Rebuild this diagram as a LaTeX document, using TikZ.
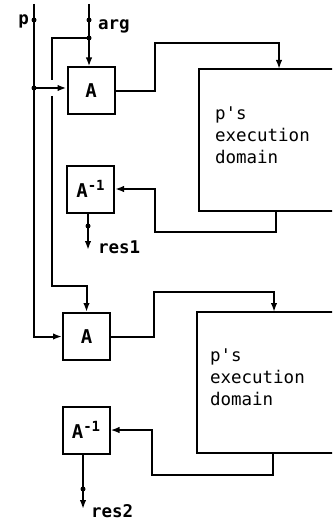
\documentclass[tikz,border=0pt]{standalone}
\usepackage{fontspec}
\newfontfamily\dmono{DejaVu Sans Mono}
\usetikzlibrary{arrows.meta}
\begin{document}
\begin{tikzpicture}[x=1pt,y=-1pt,
  line width=2pt,
  font=\dmono\fontsize{17.5}{22}\selectfont,
  opbox/.style={draw,minimum width=47pt,minimum height=47pt,inner sep=0pt,font=\dmono\bfseries\fontsize{19}{22}\selectfont},
  dombox/.style={draw,minimum width=150pt,minimum height=142pt,inner sep=0pt},
  arr/.style={-{Latex[length=9pt,width=6.5pt]}},
  dot/.style={circle,fill,inner sep=0pt,minimum size=5pt},
  lbl/.style={inner sep=0pt,anchor=base west,font=\dmono\bfseries\fontsize{17.5}{22}\selectfont}]
\clip (0,0) rectangle (332,524);
% boxes
\node[opbox] (A1) at (91,91) {A};
\node[opbox] (I1) at (90.5,189) {A\raisebox{7pt}{\fontsize{14}{14}\selectfont -1}};
\node[opbox] (A2) at (86.5,336.5) {A};
\node[opbox] (I2) at (86,430) {A\raisebox{7pt}{\fontsize{14}{14}\selectfont -1}};
\node[dombox] (D1) at (274,140) {};
\node[dombox,minimum height=141pt] (D2) at (272,382.5) {};
\node[inner sep=0pt,anchor=west,align=left] (T1) at (214,135) {p's\\execution\\domain};
\node[inner sep=0pt,anchor=west,align=left] (T2) at (209,377) {p's\\execution\\domain};
% input p
\coordinate (ptop) at (34,4);
\coordinate (pj) at (34,88);
\node[dot] (pd) at (34,20) {};
\node[inner sep=0pt,anchor=base east,font=\dmono\bfseries\fontsize{17.5}{22}\selectfont] (pl) at (30,25) {p};
\node[dot] (pjd) at (pj) {};
\draw[arr] (ptop) |- (A2.west);
\draw[arr] (pj) -- (pj -| A1.west);
% input arg
\coordinate (argtop) at (89,4);
\coordinate (aj) at (89,38);
\node[dot] (ad) at (89,20) {};
\node[lbl] (al) at (97,30) {arg};
\node[dot] (ajd) at (aj) {};
\draw[arr] (argtop) -- (argtop |- A1.north);
\coordinate (c1) at (52,80);
\coordinate (c2) at (52,96);
\coordinate (c3) at (52,286);
\draw (aj) -| (c1);
\draw[arr] (c2) -- (c3) -| (A2.north);
% first execution
\coordinate (r1) at (155,43);
\coordinate (d1in) at (279,69);
\draw[arr] (A1.east) -| (r1) -| (d1in);
\coordinate (d1out) at (276,211);
\coordinate (l1) at (155,232);
\draw[arr] (d1out) |- (l1) |- (I1.east);
\coordinate (o1) at (88,250);
\node[dot] (o1d) at (88,226) {};
\draw[arr] (I1.south -| o1) -- (o1);
\node[lbl] (res1) at (97,253) {res1};
% second execution
\coordinate (r2) at (154,292);
\coordinate (d2in) at (274,312);
\draw[arr] (A2.east) -| (r2) -| (d2in);
\coordinate (d2out) at (273,453);
\coordinate (l2) at (152,475);
\draw[arr] (d2out) |- (l2) |- (I2.east);
\coordinate (o2) at (83,509);
\node[dot] (o2d) at (83,489) {};
\draw[arr] (I2.south -| o2) -- (o2);
\node[lbl] (res2) at (90,517) {res2};
\end{tikzpicture}
\end{document}
